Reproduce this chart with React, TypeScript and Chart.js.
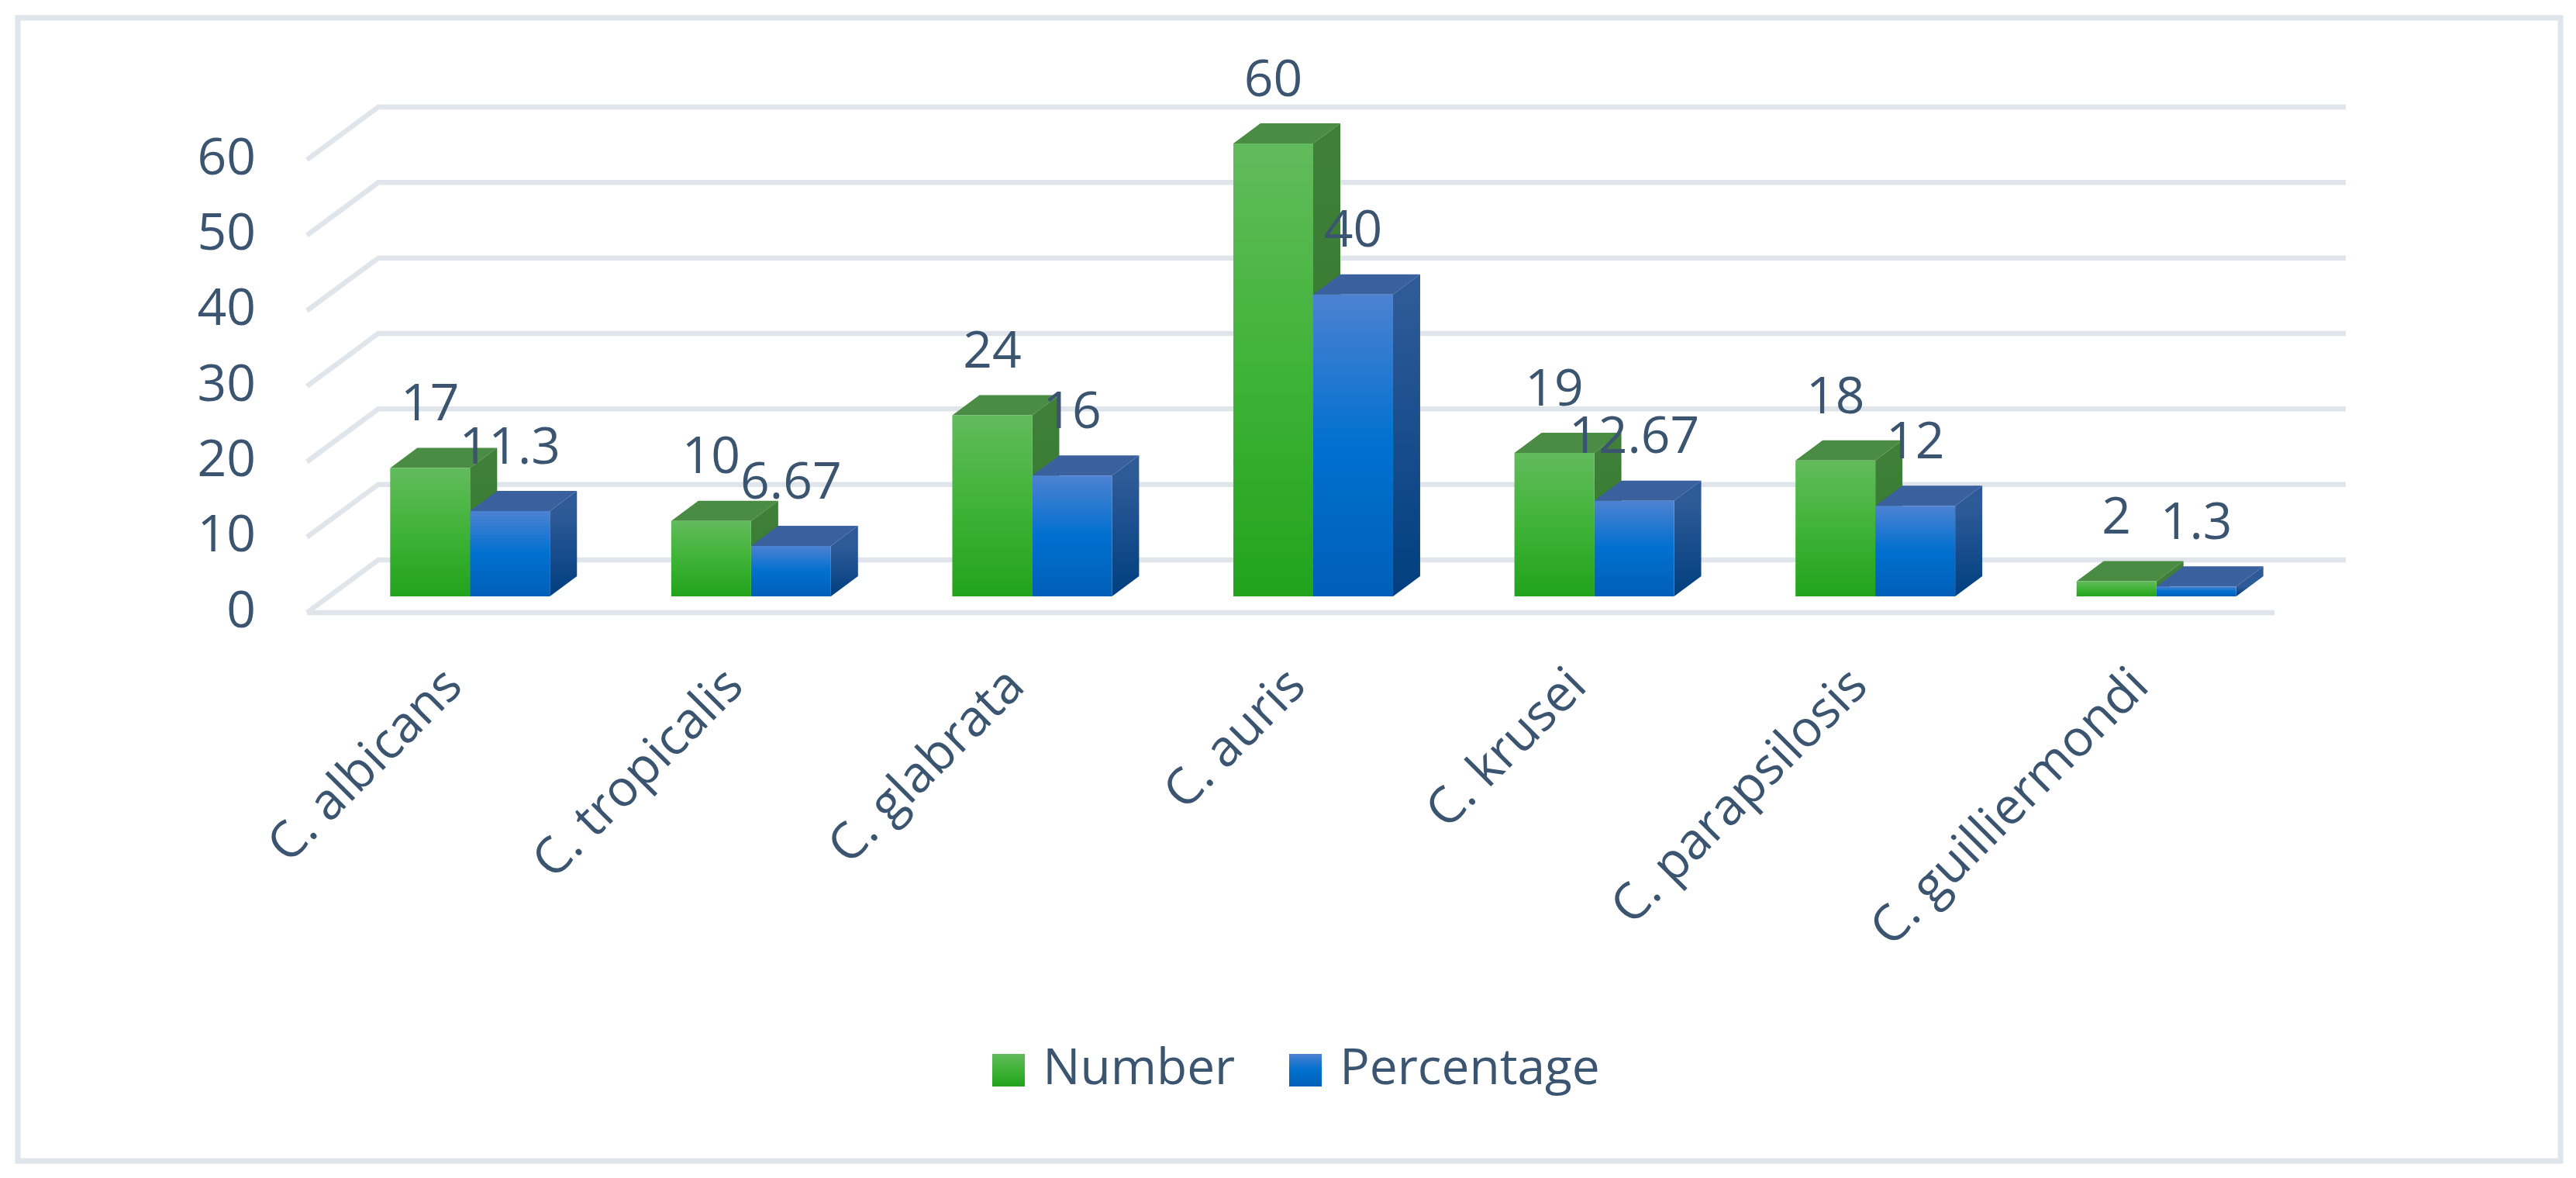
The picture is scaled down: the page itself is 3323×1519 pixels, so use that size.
import React, { useEffect, useRef } from "react";
import { Chart, registerables } from "chart.js";

Chart.register(...registerables);

const categories = ["C. albicans", "C. tropicalis", "C. glabrata", "C. auris", "C. krusei", "C. parapsilosis", "C. guilliermondi"];
const numberValues = [17, 10, 24, 60, 19, 18, 2];
const percentageValues = [11.3, 6.67, 16, 40, 12.67, 12, 1.3];
const seriesNames = ["Number", "Percentage"];
const yTicks = [0, 10, 20, 30, 40, 50, 60];

const TEXT = "#3b5470";
const GRID = "#e0e5ec";
const FONT = "'Open Sans'";
const FS = 66;
const FRONT_DX = 29, FRONT_DY = 21, BACK_DX = 63, BACK_DY = 47;
const BAR_DX = 35, BAR_DY = 26;

const palettes = [
  { stops: ["#62bb5c", "#3fb337", "#22a31c"], top: "#4b8c45", side: ["#3f7f39", "#2f7a28"] },
  { stops: ["#4d82d2", "#0070cf", "#005fb8"], top: "#3a619e", side: ["#2f5a98", "#003f7f"] },
];

function vGradient(ctx: CanvasRenderingContext2D, y0: number, y1: number, stops: string[]) {
  const g = ctx.createLinearGradient(0, y0, 0, y1);
  g.addColorStop(0, stops[0]);
  g.addColorStop(0.5, stops[1]);
  g.addColorStop(1, stops[2]);
  return g;
}

function swatch(stops: string[]) {
  const c = document.createElement("canvas");
  c.width = 42;
  c.height = 42;
  const x = c.getContext("2d")!;
  x.fillStyle = vGradient(x, 0, 42, stops);
  x.fillRect(0, 0, 42, 42);
  return c;
}

const scene = {
  id: "scene",
  beforeDraw(chart: any) {
    const { ctx, width, height } = chart;
    ctx.save();
    ctx.fillStyle = "#fff";
    ctx.fillRect(0, 0, width, height);
    ctx.strokeStyle = GRID;
    ctx.lineWidth = 7;
    ctx.strokeRect(23, 23, 3280, 1474);
    ctx.restore();
  },
  beforeDatasetsDraw(chart: any) {
    const { ctx, chartArea } = chart;
    const y = chart.scales.y;
    const left = chartArea.left, right = chartArea.right;
    ctx.save();
    ctx.strokeStyle = GRID;
    ctx.lineWidth = 6.5;
    ctx.lineCap = "butt";
    yTicks.forEach((t) => {
      const p = y.getPixelForValue(t);
      ctx.beginPath();
      ctx.moveTo(left - FRONT_DX, p + FRONT_DY);
      ctx.lineTo(left + BACK_DX, p - BACK_DY);
      ctx.lineTo(right + BACK_DX, p - BACK_DY);
      ctx.stroke();
      if (t === 0) {
        ctx.beginPath();
        ctx.moveTo(left - FRONT_DX, p + FRONT_DY);
        ctx.lineTo(right - FRONT_DX, p + FRONT_DY);
        ctx.stroke();
      }
    });
    [0, 1].forEach((di) => {
      const pal = palettes[di];
      chart.getDatasetMeta(di).data.forEach((bar: any) => {
        const r = bar.x + bar.width / 2, l = bar.x - bar.width / 2, t = bar.y, b = bar.base;
        ctx.fillStyle = pal.top;
        ctx.beginPath();
        ctx.moveTo(l, t);
        ctx.lineTo(l + BAR_DX, t - BAR_DY);
        ctx.lineTo(r + BAR_DX, t - BAR_DY);
        ctx.lineTo(r, t);
        ctx.closePath();
        ctx.fill();
        const g = ctx.createLinearGradient(0, t, 0, b);
        g.addColorStop(0, pal.side[0]);
        g.addColorStop(1, pal.side[1]);
        ctx.fillStyle = g;
        ctx.beginPath();
        ctx.moveTo(r, t);
        ctx.lineTo(r + BAR_DX, t - BAR_DY);
        ctx.lineTo(r + BAR_DX, b - BAR_DY);
        ctx.lineTo(r, b);
        ctx.closePath();
        ctx.fill();
      });
    });
    ctx.restore();
  },
  afterDatasetsDraw(chart: any) {
    const { ctx } = chart;
    ctx.save();
    ctx.font = `${FS}px ${FONT}`;
    ctx.fillStyle = TEXT;
    ctx.textAlign = "center";
    ctx.textBaseline = "middle";
    [0, 1].forEach((di) => {
      const vals = chart.data.datasets[di].data;
      chart.getDatasetMeta(di).data.forEach((bar: any, i: number) => {
        ctx.fillText(String(vals[i]), bar.x, bar.y - 80);
      });
    });
    ctx.restore();
  },
};

export default function App() {
  const ref = useRef<HTMLCanvasElement>(null);
  useEffect(() => {
    const canvas = ref.current!;
    const swatches = palettes.map((p) => swatch(p.stops));
    const fill = (di: number) => (c: any) => {
      const yScale = c.chart.scales.y;
      if (!yScale || c.raw === undefined) return palettes[di].stops[1];
      const top = yScale.getPixelForValue(c.raw);
      const base = yScale.getPixelForValue(0);
      if (!isFinite(top) || !isFinite(base) || top === base) return palettes[di].stops[1];
      return vGradient(c.chart.ctx, top, base, palettes[di].stops);
    };
    const chart = new Chart(canvas, {
      type: "bar",
      data: {
        labels: categories,
        datasets: [
          { label: seriesNames[0], data: numberValues, backgroundColor: fill(0), borderWidth: 0 },
          { label: seriesNames[1], data: percentageValues, backgroundColor: fill(1), borderWidth: 0 },
        ],
      },
      plugins: [scene],
      options: {
        responsive: false,
        animation: false,
        events: [],
        layout: { padding: { left: 30, right: 0, top: 185, bottom: 97 } },
        datasets: { bar: { categoryPercentage: 0.568, barPercentage: 1 } },
        plugins: {
          title: { display: false },
          tooltip: { enabled: false },
          legend: {
            position: "bottom",
            labels: {
              usePointStyle: true,
              pointStyleWidth: 24,
              padding: 79,
              color: TEXT,
              font: { family: FONT, size: 64 },
              generateLabels: (c: any) =>
                c.data.datasets.map((d: any, i: number) => ({
                  text: d.label,
                  datasetIndex: i,
                  pointStyle: swatches[i],
                  fillStyle: palettes[i].stops[1],
                  strokeStyle: "transparent",
                  lineWidth: 0,
                  fontColor: TEXT,
                })),
            },
          },
        },
        scales: {
          x: {
            grid: { display: false },
            border: { display: false },
            afterFit: (a: any) => { a.height = 500; },
            ticks: {
              autoSkip: false,
              minRotation: 45,
              maxRotation: 45,
              padding: 70,
              labelOffset: -20,
              color: TEXT,
              font: { family: FONT, size: 65 },
            },
          },
          y: {
            min: 0,
            max: 60,
            afterFit: (a: any) => { a.width = 395; },
            grid: { display: false, drawTicks: false },
            border: { display: false },
            ticks: {
              stepSize: 10,
              padding: 95,
              labelOffset: 21,
              color: TEXT,
              font: { family: FONT, size: FS },
            },
          },
          yRight: {
            type: "linear",
            axis: "y",
            position: "right",
            afterFit: (a: any) => { a.width = 360; },
            grid: { display: false, drawTicks: false },
            border: { display: false },
            ticks: { display: false },
          },
        },
      },
    } as any);
    return () => chart.destroy();
  }, []);
  return (
    <canvas
      ref={ref}
      width={3323}
      height={1519}
      style={{ position: "absolute", left: 0, top: 0, display: "block" }}
    />
  );
}
